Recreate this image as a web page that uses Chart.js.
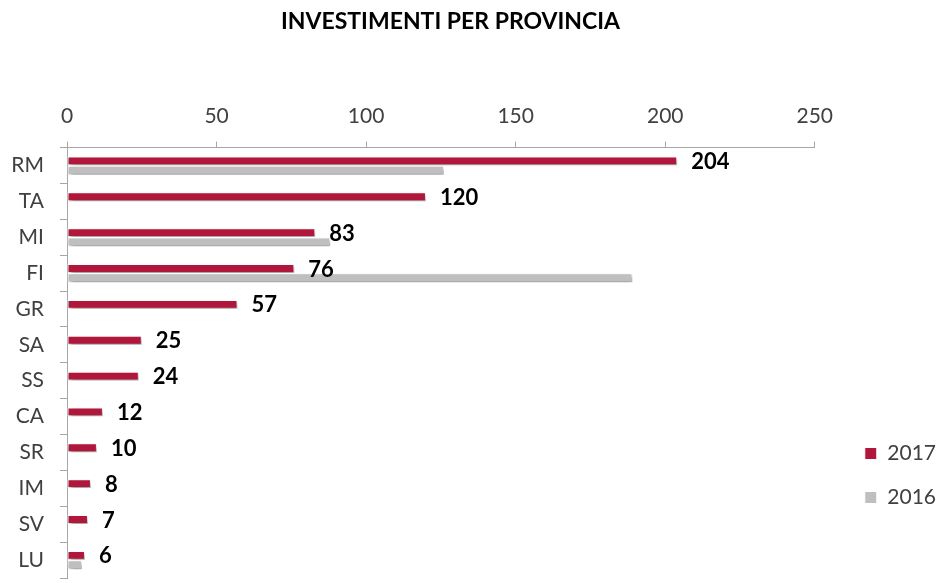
<!DOCTYPE html>
<html>
<head>
<meta charset="utf-8">
<script src="https://cdn.jsdelivr.net/npm/chart.js@4"></script>
<style>
  html, body { margin: 0; padding: 0; background: #fff; }
  #wrap { width: 939px; height: 583px; }
</style>
</head>
<body>
<div id="wrap"><canvas id="chart"></canvas></div>
<script>
// provinces and values
const provinces = ['RM', 'TA', 'MI', 'FI', 'GR', 'SA', 'SS', 'CA', 'SR', 'IM', 'SV', 'LU'];
const values2017 = [204, 120, 83, 76, 57, 25, 24, 12, 10, 8, 7, 6];
const values2016 = [126, 0, 88, 189, 0, 0, 0, 0, 0, 0, 0, 5];
const xTicks = [0, 50, 100, 150, 200, 250];

const RED = '#B0173A';
const GREY = '#BFBFBF';
const FONT = 'Lato, "Open Sans", sans-serif';

// Excel style soft shadow under the bars
const barShadow = {
    id: 'barShadow',
    beforeDatasetsDraw(chart) {
        const ctx = chart.ctx;
        ctx.save();
        ctx.shadowColor = 'rgba(0,0,0,0.4)';
        ctx.shadowBlur = 4;
        ctx.shadowOffsetX = 2;
        ctx.shadowOffsetY = 3;
    },
    afterDatasetsDraw(chart) {
        chart.ctx.restore();
    }
};

// value labels, only for 2017
const valueLabels = {
    id: 'valueLabels',
    afterDatasetsDraw(chart) {
        const ctx = chart.ctx;
        const meta = chart.getDatasetMeta(0);
        ctx.save();
        ctx.font = 'bold 22px ' + FONT;
        ctx.fillStyle = '#000';
        ctx.textAlign = 'left';
        ctx.textBaseline = 'middle';
        meta.data.forEach((bar, i) => {
            ctx.fillText(values2017[i], bar.x + 14, bar.y + 1);
        });
        ctx.restore();
    }
};

// move legend and title to where the original has them
const shiftBoxes = {
    id: 'shiftBoxes',
    afterLayout(chart) {
        const lg = chart.legend;
        lg.left += 27;
        lg.right += 27;
        lg.top -= 47;
        lg.bottom -= 47;
        const t = chart.titleBlock;
        t.left -= 9;
        t.right -= 9;
    }
};

new Chart(document.getElementById('chart'), {
    type: 'bar',
    data: {
        labels: provinces,
        datasets: [{
            label: '2017',
            data: values2017,
            backgroundColor: RED,
            borderColor: '#fff',
            borderWidth: 1,
            borderSkipped: false,
        }, {
            label: '2016',
            data: values2016,
            backgroundColor: GREY,
            borderColor: '#fff',
            borderWidth: 1,
            borderSkipped: false,
        }]
    },
    options: {
        indexAxis: 'y',
        responsive: true,
        maintainAspectRatio: false,
        animation: false,
        categoryPercentage: 0.52,
        barPercentage: 0.95,
        layout: { padding: { left: 0, right: 20, top: 0, bottom: 5 } },
        plugins: {
            title: {
                display: true,
                text: 'INVESTIMENTI PER PROVINCIA',
                color: '#000',
                font: { family: FONT, size: 23, weight: 'bold' },
                padding: { top: 8, bottom: 8 }
            },
            legend: {
                position: 'right',
                align: 'end',
                labels: {
                    color: '#404040',
                    font: { family: FONT, size: 21 },
                    boxWidth: 12,
                    boxHeight: 12,
                    padding: 23
                }
            },
            tooltip: { enabled: false }
        },
        scales: {
            x: {
                position: 'top',
                min: 0,
                max: 250,
                afterBuildTicks(scale) {
                    scale.ticks = xTicks.map(v => ({ value: v }));
                },
                afterFit(scale) { scale.height = 104; },
                grid: { drawOnChartArea: false, tickLength: 6, color: '#A6A6A6' },
                border: { color: '#A6A6A6' },
                ticks: { color: '#404040', font: { family: FONT, size: 21 }, padding: 13 }
            },
            y: {
                afterFit(scale) {
                    scale.width = 67;
                    scale.paddingTop = 0;
                    scale.paddingBottom = 0;
                },
                grid: { drawOnChartArea: false, tickLength: 7, color: '#A6A6A6' },
                border: { color: '#A6A6A6' },
                ticks: { color: '#404040', font: { family: FONT, size: 21 }, padding: 16 }
            }
        }
    },
    plugins: [barShadow, valueLabels, shiftBoxes]
});
</script>
</body>
</html>
